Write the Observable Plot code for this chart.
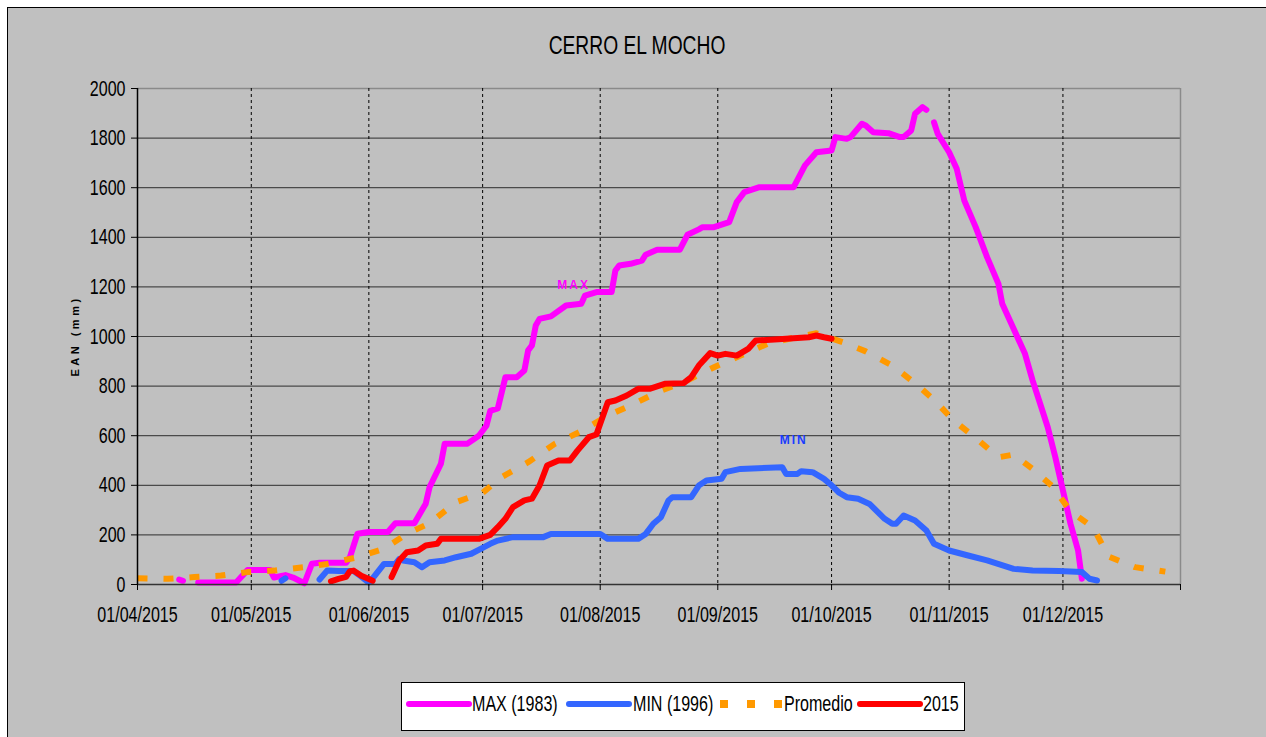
<!DOCTYPE html>
<html>
<head>
<meta charset="utf-8">
<script src="https://cdn.jsdelivr.net/npm/d3@7"></script>
<script src="https://cdn.jsdelivr.net/npm/@observablehq/plot@0.6"></script>
<style>
  body { margin: 0; background: #fff; font-family: "Liberation Sans", Arial, sans-serif; }
  #frame { position: absolute; left: 7px; top: 7px; width: 1270px; height: 740px; background: #c0c0c0; border-left: 1.5px solid #000; border-top: 1.5px solid #000; }
  #chart { position: absolute; left: 0; top: 0; }
  #title { position: absolute; left: 0; width: 1274px; top: 32px; text-align: center; font-size: 26px; line-height: 26px; color: #000; transform: scaleX(0.74); transform-origin: 637px 0; }
  #ylabel { position: absolute; left: 75px; top: 336px; transform: translate(-50%, -50%) rotate(-90deg); font-weight: bold; font-size: 11px; letter-spacing: 3.5px; white-space: nowrap; color: #000; }
  #legend { position: absolute; left: 401px; top: 682px; width: 564px; height: 49px; background: #fff; border: 1px solid #000; box-sizing: border-box; }
  .lg { position: absolute; top: 10px; font-size: 22px; line-height: 22px; white-space: nowrap; color: #000; transform: scaleX(0.73); transform-origin: 0 0; }
  .sw { position: absolute; top: 0; }
</style>
</head>
<body>
<div id="frame"></div>
<div id="chart"></div>
<div id="title">CERRO EL MOCHO</div>
<div id="ylabel">EAN (mm)</div>
<div id="legend"></div>
<script>
// ---------- data (dd/mm, 2015) ----------
const seriesNames = ["MAX (1983)", "MIN (1996)", "Promedio", "2015"];
const seriesColors = ["#ff00ff", "#3366ff", "#ff9900", "#ff0000"];

const maxDates = ["12/04","13/04","14/04","17/04","27/04","30/04","06/05","07/05","10/05","12/05","15/05","17/05","19/05","26/05","27/05","29/05","01/06","06/06","08/06","13/06","16/06","17/06","20/06","21/06","27/06","30/06","02/07","03/07","05/07","07/07","10/07","12/07","13/07","14/07","15/07","16/07","19/07","23/07","27/07","28/07","31/07","04/08","05/08","06/08","09/08","12/08","13/08","16/08","22/08","24/08","27/08","28/08","31/08","04/09","06/09","08/09","12/09","21/09","24/09","27/09","01/10","02/10","05/10","06/10","09/10","10/10","12/10","16/10","19/10","20/10","22/10","23/10","25/10","26/10","27/10","28/10","29/10","01/11","03/11","05/11","08/11","11/11","14/11","15/11","18/11","21/11","23/11","25/11","27/11","29/11","01/12","03/12","05/12","06/12"];
const maxValues = [20,15,null,8,8,58,58,28,38,28,5,84,88,88,110,205,212,212,247,247,326,392,487,568,568,600,640,700,710,836,836,863,944,964,1044,1071,1081,1125,1132,1165,1179,1179,1266,1286,1293,1306,1330,1350,1350,1410,1432,1441,1441,1461,1542,1582,1602,1602,1690,1743,1750,1804,1797,1804,1858,1851,1824,1820,1804,1804,1831,1898,1925,1914,null,1864,1817,1743,1676,1548,1441,1320,1212,1132,1031,930,823,729,634,513,379,245,137,23];

const minDates = ["09/05","10/05","11/05","19/05","21/05","24/05","28/05","30/05","01/06","02/06","05/06","08/06","09/06","10/06","13/06","15/06","17/06","21/06","24/06","28/06","01/07","03/07","05/07","09/07","17/07","19/07","01/08","03/08","11/08","13/08","15/08","17/08","19/08","20/08","25/08","27/08","29/08","02/09","03/09","07/09","18/09","19/09","22/09","23/09","26/09","29/09","01/10","03/10","05/10","08/10","11/10","15/10","17/10","18/10","20/10","23/10","26/10","28/10","01/11","06/11","11/11","18/11","23/11","30/11","06/12","08/12","10/12"];
const minValues = [15,25,null,20,56,54,54,32,8,25,83,83,103,97,90,70,90,97,110,124,148,164,177,191,191,204,204,184,184,204,245,271,339,352,352,399,419,426,453,466,473,446,446,457,453,426,400,370,352,346,325,265,245,245,278,258,218,164,137,117,97,63,56,54,50,23,16];

const avgDates = ["01/04","09/04","16/04","23/04","30/04","07/05","15/05","21/05","29/05","05/06","11/06","17/06","24/06","01/07","06/07","13/07","20/07","27/07","03/08","09/08","17/08","23/08","31/08","07/09","14/09","21/09","27/09","04/10","10/10","17/10","23/10","28/10","02/11","09/11","14/11","18/11","23/11","28/11","03/12","09/12","13/12","20/12","28/12"];
const avgValues = [25,23,30,36,50,56,70,83,110,144,204,247,332,370,433,493,567,618,681,722,782,816,876,923,970,995,1013,977,940,883,812,745,664,578,513,524,466,399,296,229,113,70,52];

const y2015Dates = ["22/05","24/05","26/05","27/05","28/05","30/05","01/06","02/06","03/06","07/06","09/06","11/06","14/06","16/06","19/06","20/06","30/06","03/07","05/07","07/07","09/07","12/07","14/07","16/07","18/07","21/07","24/07","26/07","29/07","31/07","03/08","05/08","08/08","11/08","14/08","18/08","23/08","25/08","27/08","30/08","01/09","03/09","06/09","09/09","11/09","16/09","25/09","27/09","29/09","01/10"];
const y2015Values = [13,23,31,54,56,35,22,15,null,30,97,130,137,157,164,184,184,200,231,265,312,339,346,399,480,500,500,540,594,605,735,742,762,789,789,809,812,836,883,933,923,930,923,950,984,988,997,1004,997,991];

const yTicks = [0,200,400,600,800,1000,1200,1400,1600,1800,2000];
const xStart = "01/04/2015", xEnd = "01/01/2016";
const annotations = [
  {label: "MAX", date: "25/07", value: 1208, color: "#ff00ff"},
  {label: "MIN", date: "21/09", value: 581, color: "#1a3cff"}
];

// ---------- build ----------
const parseDay = d3.utcParse("%d/%m/%Y");
const pd = s => parseDay(s + "/2015");
const x0 = parseDay(xStart), x1 = parseDay(xEnd);
const monthTicks = d3.utcMonth.range(x0, d3.utcDay.offset(x1, 1));
const fmt = d3.utcFormat("%d/%m/%Y");
const rows = (dates, values) => dates.map((d, i) => ({date: pd(d), value: values[i]}));

const maxRows = rows(maxDates, maxValues);
const minRows = rows(minDates, minValues);
const avgRows = rows(avgDates, avgValues);
const y15Rows = rows(y2015Dates, y2015Values);
const annRows = annotations.map(a => ({...a, date: pd(a.date)}));

const lineOpts = (color, extra = {}) => ({x: "date", y: "value", stroke: color, strokeWidth: 6, strokeLinecap: "round", strokeLinejoin: "round", ...extra});

const chart = Plot.plot({
  width: 1266,
  height: 640,
  marginLeft: 137,
  marginRight: 86,
  marginTop: 88,
  marginBottom: 56,
  style: {background: "transparent", fontFamily: '"Liberation Sans", Arial, sans-serif', fontSize: "22px", color: "#000", overflow: "visible"},
  x: {type: "utc", domain: [x0, x1]},
  y: {domain: [0, 2000]},
  marks: [
    Plot.ruleY(yTicks.slice(1, -1), {stroke: "#4a4a4a", strokeWidth: 1.2}),
    Plot.ruleY([2000], {stroke: "#8a8a8a", strokeWidth: 1.5}),
    Plot.ruleX(monthTicks.slice(1, -1), {stroke: "#000", strokeWidth: 1, strokeDasharray: "3,3"}),
    Plot.ruleX([x1], {stroke: "#8a8a8a", strokeWidth: 1.5}),
    Plot.line(maxRows, lineOpts(seriesColors[0])),
    Plot.line(minRows, lineOpts(seriesColors[1])),
    Plot.line(avgRows, lineOpts(seriesColors[2], {strokeLinecap: "butt", strokeDasharray: "10,16"})),
    Plot.line(y15Rows, lineOpts(seriesColors[3])),
    Plot.ruleY([0], {stroke: "#333", strokeWidth: 1.5}),
    Plot.ruleX([x0], {stroke: "#000", strokeWidth: 1.5}),
    Plot.axisX({ticks: monthTicks, tickFormat: d => (+d >= +x1 ? "" : fmt(d)), tickSize: 6, tickPadding: 16, label: null, fontSize: 22, stroke: "#000"}),
    Plot.axisY({ticks: yTicks, tickFormat: d => String(d), tickSize: 6, tickPadding: 6, label: null, fontSize: 22, stroke: "#000"}),
    Plot.text(annRows, {x: "date", y: "value", text: "label", fill: "color", fontWeight: "bold", fontSize: 12})
  ]
});
d3.select(chart).selectAll('g[aria-label="text"] text').attr("letter-spacing", "2px");
document.getElementById("chart").appendChild(chart);

// condense axis labels (narrow Arial look) without moving them
d3.select(chart).selectAll('g[aria-label="x-axis tick label"] text, g[aria-label="y-axis tick label"] text').each(function() {
  const w = this.getComputedTextLength();
  if (w > 0) {
    this.setAttribute("textLength", (w * 0.73).toFixed(1));
    this.setAttribute("lengthAdjust", "spacingAndGlyphs");
  }
});

// ---------- legend ----------
const legend = document.getElementById("legend");
const items = [
  {name: seriesNames[0], color: seriesColors[0], type: "line", sx: 3, tx: 70},
  {name: seriesNames[1], color: seriesColors[1], type: "line", sx: 163, tx: 231},
  {name: seriesNames[2], color: seriesColors[2], type: "dash", sx: 316, tx: 382},
  {name: seriesNames[3], color: seriesColors[3], type: "line", sx: 454, tx: 521}
];
items.forEach(it => {
  const svg = d3.create("svg").attr("class", "sw").attr("width", 68).attr("height", 47).style("left", it.sx + "px");
  if (it.type === "line") {
    svg.append("line").attr("x1", 4).attr("x2", 64).attr("y1", 21).attr("y2", 21)
      .attr("stroke", it.color).attr("stroke-width", 6).attr("stroke-linecap", "round");
  } else {
    [0, 27, 54].forEach(dx => svg.append("rect").attr("x", 2 + dx).attr("y", 17).attr("width", 8).attr("height", 8).attr("fill", it.color));
  }
  legend.appendChild(svg.node());
  const t = document.createElement("div");
  t.className = "lg";
  t.style.left = it.tx + "px";
  t.textContent = it.name;
  legend.appendChild(t);
});
</script>
</body>
</html>
